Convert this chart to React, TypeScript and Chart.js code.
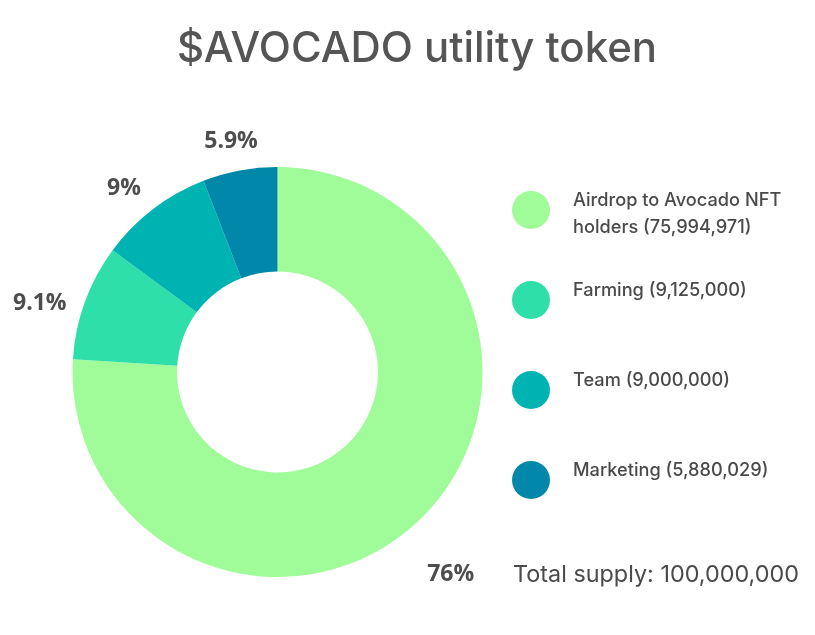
import React, { useEffect, useRef } from "react";
import { Chart, registerables } from "chart.js";

Chart.register(...registerables);

const titleText = "$AVOCADO utility token";
const categories = ["Airdrop to Avocado NFT holders", "Farming", "Team", "Marketing"];
const values = [75994971, 9125000, 9000000, 5880029];
const colors = ["#a0fc99", "#2fdfa9", "#00b3b3", "#0087a9"];
const totalSupplyLabel = "Total supply: 100,000,000";

const fmt = (n: number) => n.toLocaleString("en-US");

const FONT = "Inter";

function fitFont(ctx: CanvasRenderingContext2D, weight: string, text: string, targetW: number, base: number) {
  ctx.font = `${weight} ${base}px ${FONT}`;
  const w = ctx.measureText(text).width;
  const size = (base * targetW) / w;
  return `${weight} ${size.toFixed(2)}px ${FONT}`;
}

const overlay = {
  id: "overlay",
  afterDraw(chart: any) {
    const ctx = chart.ctx as CanvasRenderingContext2D;
    ctx.save();
    // title
    ctx.fillStyle = "#555555";
    ctx.font = fitFont(ctx, "500", titleText, 480, 40);
    ctx.textAlign = "center";
    ctx.textBaseline = "alphabetic";
    ctx.fillText(titleText, 417, 62);

    // percent labels
    const meta = chart.getDatasetMeta(0);
    const total = values.reduce((a, b) => a + b, 0);
    ctx.font = "bold 23px 'Open Sans'";
    ctx.fillStyle = "#4d4d4d";
    ctx.textAlign = "center";
    ctx.textBaseline = "middle";
    meta.data.forEach((arc: any, i: number) => {
      const p = arc.getProps(["x", "y", "startAngle", "endAngle", "outerRadius"], true);
      const mid = (p.startAngle + p.endAngle) / 2;
      const dx = Math.cos(mid), dy = Math.sin(mid);
      const txt = parseFloat(((values[i] / total) * 100).toFixed(1)) + "%";
      const r = p.outerRadius + 48;
      ctx.fillText(txt, p.x + dx * r, p.y + dy * r + 18);
    });

    // legend
    const lx = 531, lr = 19, tx = 573, maxW = 228;
    const topY = 210, gap = 90;
    ctx.textAlign = "left";
    ctx.textBaseline = "alphabetic";
    ctx.font = fitFont(ctx, "500", "Farming (9,125,000)", 174, 17);
    categories.forEach((c, i) => {
      const cy = topY + i * gap;
      ctx.beginPath();
      ctx.arc(lx, cy, lr, 0, Math.PI * 2);
      ctx.fillStyle = colors[i];
      ctx.fill();
      const words = (c + " (" + fmt(values[i]) + ")").split(" ");
      const lines: string[] = [];
      let cur = "";
      words.forEach((wd) => {
        const t = cur ? cur + " " + wd : wd;
        if (ctx.measureText(t).width > maxW && cur) {
          lines.push(cur);
          cur = wd;
        } else cur = t;
      });
      if (cur) lines.push(cur);
      ctx.fillStyle = "#4a4a4a";
      lines.forEach((ln, j) => {
        ctx.fillText(ln, tx, cy - lr + 15 + j * 27);
      });
    });

    // total supply
    ctx.font = fitFont(ctx, "400", totalSupplyLabel, 286, 23);
    ctx.fillStyle = "#4a4a4a";
    ctx.fillText(totalSupplyLabel, 513, 582);
    ctx.restore();
  },
};

export default function App() {
  const ref = useRef<HTMLCanvasElement>(null);
  useEffect(() => {
    const chart = new Chart(ref.current!, {
      type: "doughnut",
      data: {
        labels: categories,
        datasets: [
          {
            data: values,
            backgroundColor: colors,
            borderWidth: 0,
            hoverOffset: 0,
          },
        ],
      },
      options: {
        responsive: false,
        animation: false,
        cutout: "49%",
        layout: { padding: { left: 72, right: 332, top: 167, bottom: 58 } },
        plugins: {
          legend: { display: false },
          title: { display: false },
          tooltip: { enabled: false },
        },
      },
      plugins: [overlay],
    });
    return () => chart.destroy();
  }, []);
  return (
    <div style={{ position: "absolute", left: 0, top: 0, width: 815, height: 635, background: "#fff" }}>
      <canvas ref={ref} width={815} height={635} />
    </div>
  );
}
